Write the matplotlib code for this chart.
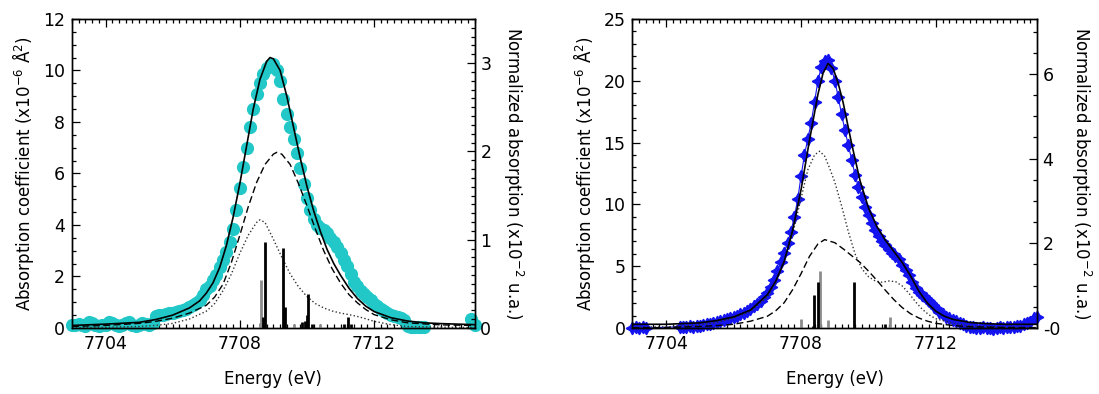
import numpy as np
import matplotlib.pyplot as plt
from matplotlib.ticker import MultipleLocator, FixedLocator, FixedFormatter

# ---- left panel: measured data (cyan circles) ----
e_left = [7703.0, 7703.1, 7703.2, 7703.3, 7703.4, 7703.5, 7703.6, 7703.7, 7703.8, 7703.9,
          7704.0, 7704.1, 7704.2, 7704.3, 7704.4, 7704.5, 7704.6, 7704.7, 7704.8, 7704.9,
          7705.0, 7705.1, 7705.2, 7705.3, 7705.4, 7705.5, 7705.6, 7705.7, 7705.8, 7705.9,
          7706.0, 7706.1, 7706.2, 7706.3, 7706.4, 7706.5, 7706.6, 7706.7, 7706.8, 7706.9,
          7707.0, 7707.1, 7707.2, 7707.3, 7707.4, 7707.5, 7707.6, 7707.7, 7707.8, 7707.9,
          7708.0, 7708.1, 7708.2, 7708.3, 7708.4, 7708.5, 7708.6, 7708.7, 7708.8, 7708.9,
          7709.0, 7709.1, 7709.2, 7709.3, 7709.4, 7709.5, 7709.6, 7709.7, 7709.8, 7709.9,
          7710.0, 7710.1, 7710.2, 7710.3, 7710.4, 7710.5, 7710.6, 7710.7, 7710.8, 7710.9,
          7711.0, 7711.1, 7711.2, 7711.3, 7711.4, 7711.5, 7711.6, 7711.7, 7711.8, 7711.9,
          7712.0, 7712.1, 7712.2, 7712.3, 7712.4, 7712.5, 7712.6, 7712.7, 7712.8, 7712.9,
          7713.0, 7713.1, 7713.2, 7713.3, 7713.4, 7713.5, 7714.9, 7715.0]
mu_left = [0.10, 0.12, 0.15, 0.10, 0.08, 0.22, 0.20, 0.12, 0.08, 0.10,
           0.12, 0.22, 0.20, 0.10, 0.06, 0.10, 0.20, 0.22, 0.12, 0.08,
           0.12, 0.18, 0.15, 0.12, 0.20, 0.45, 0.50, 0.52, 0.55, 0.58,
           0.60, 0.63, 0.66, 0.70, 0.75, 0.80, 0.88, 0.98, 1.10, 1.30,
           1.50, 1.65, 1.85, 2.05, 2.35, 2.65, 2.95, 3.35, 3.85, 4.60,
           5.45, 6.25, 7.00, 7.80, 8.50, 9.10, 9.50, 9.85, 10.1, 10.2,
           10.25, 10.0, 9.60, 8.90, 8.30, 7.80, 7.35, 6.80, 6.20, 5.60,
           5.05, 4.60, 4.25, 4.00, 3.90, 3.80, 3.68, 3.50, 3.35, 3.15,
           2.92, 2.65, 2.40, 2.10, 1.80, 1.62, 1.45, 1.32, 1.20, 1.08,
           0.95, 0.85, 0.75, 0.66, 0.60, 0.52, 0.46, 0.42, 0.38, 0.30,
           0.08, 0.05, 0.04, 0.05, 0.03, 0.04, 0.35, 0.12]

# left panel: total fit (solid), component 1 (dashed), component 2 (dotted)
e_fit_l = [7703.0, 7704.0, 7705.0, 7705.5, 7706.0, 7706.5, 7706.8, 7707.0, 7707.2, 7707.4,
           7707.6, 7707.8, 7708.0, 7708.2, 7708.4, 7708.6, 7708.8, 7708.9, 7709.0, 7709.2,
           7709.4, 7709.6, 7709.8, 7710.0, 7710.2, 7710.4, 7710.6, 7710.8, 7711.0, 7711.25,
           7711.5, 7711.75, 7712.0, 7712.5, 7713.0, 7713.5, 7714.0, 7715.0]
tot_l = [0.10, 0.15, 0.22, 0.33, 0.50, 0.78, 1.05, 1.35, 1.75, 2.35,
         3.20, 4.30, 5.60, 7.05, 8.50, 9.65, 10.35, 10.5, 10.45, 10.0,
         9.00, 7.80, 6.60, 5.50, 4.55, 3.75, 3.05, 2.50, 2.05, 1.55,
         1.15, 0.85, 0.64, 0.40, 0.27, 0.20, 0.17, 0.13]

e_dash_l = [7703.0, 7704.0, 7705.0, 7705.5, 7706.0, 7706.5, 7707.0, 7707.25, 7707.5, 7707.75,
            7708.0, 7708.25, 7708.5, 7708.75, 7709.0, 7709.1, 7709.25, 7709.5, 7709.75, 7710.0,
            7710.25, 7710.5, 7710.75, 7711.0, 7711.25, 7711.5, 7711.75, 7712.0, 7712.5, 7713.0,
            7714.0, 7715.0]
dash_l = [0.06, 0.10, 0.18, 0.26, 0.38, 0.58, 0.88, 1.20, 1.70, 2.55,
          3.60, 4.70, 5.65, 6.35, 6.75, 6.82, 6.75, 6.35, 5.60, 4.75,
          3.85, 3.00, 2.30, 1.75, 1.30, 0.98, 0.72, 0.52, 0.32, 0.20,
          0.12, 0.10]

e_dot_l = [7703.0, 7704.0, 7705.0, 7705.5, 7706.0, 7706.5, 7707.0, 7707.25, 7707.5, 7707.75,
           7708.0, 7708.25, 7708.5, 7708.6, 7708.75, 7709.0, 7709.25, 7709.5, 7709.75, 7710.0,
           7710.25, 7710.5, 7710.75, 7711.0, 7711.25, 7711.5, 7711.75, 7712.0, 7712.5, 7713.0,
           7714.0, 7715.0]
dot_l = [0.02, 0.03, 0.06, 0.10, 0.18, 0.35, 0.65, 0.95, 1.45, 2.10,
         2.90, 3.60, 4.10, 4.20, 4.10, 3.45, 2.75, 2.10, 1.60, 1.22,
         0.95, 0.78, 0.66, 0.58, 0.52, 0.45, 0.36, 0.26, 0.13, 0.06,
         0.03, 0.02]

# left panel: calculated transitions (right axis)
stick_e_l_black = [7708.70, 7708.74, 7709.29, 7709.36, 7709.85, 7709.95, 7710.0, 7710.03,
                   7710.15, 7711.10, 7711.23, 7711.30]
stick_h_l_black = [0.13, 0.97, 0.91, 0.24, 0.07, 0.08, 0.15, 0.38,
                   0.05, 0.04, 0.13, 0.05]
stick_e_l_gray = [7708.60, 7708.64, 7709.60, 7710.40]
stick_h_l_gray = [0.06, 0.54, 0.04, 0.04]

# ---- right panel: measured data (blue stars) ----
e_right = [7703.0, 7703.1, 7703.2, 7703.3, 7703.4,
           7704.4, 7704.5, 7704.6, 7704.7, 7704.8, 7704.9, 7705.0, 7705.1, 7705.2, 7705.3,
           7705.4, 7705.5, 7705.6, 7705.7, 7705.8, 7705.9, 7706.0, 7706.1, 7706.2, 7706.3,
           7706.4, 7706.5, 7706.6, 7706.7, 7706.8, 7706.9, 7707.0, 7707.1, 7707.2, 7707.3,
           7707.4, 7707.5, 7707.6, 7707.7, 7707.8, 7707.9, 7708.0, 7708.1, 7708.2, 7708.3,
           7708.4, 7708.5, 7708.6, 7708.7, 7708.8, 7708.9, 7709.0, 7709.1, 7709.2, 7709.3,
           7709.4, 7709.5, 7709.6, 7709.7, 7709.8, 7709.9, 7710.0, 7710.1, 7710.2, 7710.3,
           7710.4, 7710.5, 7710.6, 7710.7, 7710.8, 7710.9, 7711.0, 7711.1, 7711.2, 7711.3,
           7711.4, 7711.5, 7711.6, 7711.7, 7711.8, 7711.9, 7712.0, 7712.1, 7712.2, 7712.3,
           7712.4, 7712.5, 7712.6, 7712.7, 7712.8, 7712.9, 7713.0, 7713.1, 7713.2, 7713.3,
           7713.4, 7713.5, 7713.6, 7713.7, 7713.8, 7713.9, 7714.0, 7714.1, 7714.2, 7714.3,
           7714.4, 7714.5, 7714.6, 7714.7, 7714.8, 7714.9, 7715.0]
mu_right = [0.00, 0.05, 0.00, 0.05, 0.00,
            0.10, 0.05, 0.10, 0.15, 0.10, 0.20, 0.20, 0.25, 0.30, 0.35,
            0.40, 0.50, 0.55, 0.65, 0.72, 0.80, 0.90, 1.00, 1.10, 1.25,
            1.40, 1.55, 1.75, 1.95, 2.20, 2.50, 2.85, 3.30, 3.90, 4.60,
            5.30, 6.10, 6.90, 7.80, 9.00, 10.4, 12.3, 14.0, 15.3, 16.6,
            18.3, 20.0, 21.1, 21.6, 21.7, 21.0, 20.0, 18.7, 17.3, 16.0,
            14.8, 13.6, 12.4, 11.4, 10.6, 9.80, 9.10, 8.50, 7.90, 7.45,
            7.05, 6.70, 6.40, 6.10, 5.85, 5.55, 5.10, 4.70, 4.25, 3.70,
            3.25, 2.95, 2.65, 2.40, 2.15, 1.85, 1.60, 1.30, 1.10, 0.90,
            0.80, 0.65, 0.55, 0.40, 0.30, 0.20, 0.10, 0.05, 0.00, 0.00,
            0.05, 0.00, 0.00, -0.05, 0.00, 0.05, 0.00, 0.05, 0.10, 0.05,
            0.15, 0.20, 0.30, 0.40, 0.50, 0.80, 0.90]

e_fit_r = [7703.0, 7704.0, 7705.0, 7705.5, 7706.0, 7706.5, 7707.0, 7707.25, 7707.5, 7707.75,
           7708.0, 7708.25, 7708.5, 7708.65, 7708.8, 7708.95, 7709.1, 7709.25, 7709.5, 7709.75,
           7710.0, 7710.25, 7710.5, 7710.75, 7711.0, 7711.25, 7711.5, 7711.75, 7712.0, 7712.25,
           7712.5, 7713.0, 7713.5, 7714.0, 7715.0]
tot_r = [0.30, 0.30, 0.42, 0.60, 0.90, 1.45, 2.70, 3.80, 5.40, 7.90,
         11.2, 15.2, 18.9, 20.6, 21.4, 21.0, 19.8, 18.2, 14.9, 11.9,
         9.70, 8.20, 7.10, 6.20, 5.30, 4.20, 2.95, 2.00, 1.35, 0.95,
         0.70, 0.45, 0.35, 0.30, 0.30]

e_dash_r = [7703.0, 7704.0, 7705.0, 7705.5, 7706.0, 7706.5, 7707.0, 7707.25, 7707.5, 7707.75,
            7708.0, 7708.25, 7708.5, 7708.7, 7709.0, 7709.25, 7709.5, 7709.75, 7710.0, 7710.25,
            7710.5, 7710.75, 7711.0, 7711.25, 7711.5, 7711.75, 7712.0, 7712.5, 7713.0, 7714.0,
            7715.0]
dash_r = [0.02, 0.04, 0.12, 0.20, 0.30, 0.55, 0.95, 1.40, 2.05, 3.10,
          4.40, 5.80, 6.80, 7.15, 6.90, 6.40, 5.85, 5.30, 4.60, 3.85,
          3.05, 2.30, 1.65, 1.15, 0.80, 0.55, 0.38, 0.20, 0.10, 0.05,
          0.03]

e_dot_r = [7703.0, 7704.0, 7705.0, 7705.5, 7706.0, 7706.5, 7707.0, 7707.25, 7707.5, 7707.75,
           7708.0, 7708.2, 7708.4, 7708.55, 7708.7, 7708.85, 7709.0, 7709.2, 7709.4, 7709.6,
           7709.8, 7710.0, 7710.2, 7710.4, 7710.6, 7710.8, 7711.0, 7711.2, 7711.4, 7711.6,
           7711.8, 7712.0, 7712.5, 7713.0, 7714.0, 7715.0]
dot_r = [0.05, 0.10, 0.25, 0.45, 0.80, 1.35, 2.50, 3.70, 5.30, 7.60,
         10.5, 12.8, 14.0, 14.3, 13.9, 12.9, 11.8, 9.90, 7.80, 6.00,
         4.80, 4.15, 3.80, 3.70, 3.80, 3.75, 3.40, 2.80, 2.10, 1.50,
         1.05, 0.75, 0.38, 0.18, 0.06, 0.03]

stick_e_r_black = [7708.36, 7708.39, 7708.51, 7709.56, 7710.50]
stick_h_r_black = [0.05, 0.79, 1.09, 1.09, 0.10]
stick_e_r_gray = [7708.00, 7708.55, 7708.79, 7710.64]
stick_h_r_gray = [0.22, 1.34, 0.20, 0.27]

CYAN = '#22c8c8'
BLUE = '#1414f0'
GRAY = '#8c8c8c'


def style_axes(ax, ax2, ymax, ymin_step, ymaj, y2max, y2maj, y2min, y2labels=None):
    ax.set_xlim(7703, 7715)
    ax.set_ylim(0, ymax)
    ax2.set_ylim(0, y2max)
    ax.xaxis.set_major_locator(FixedLocator([7704, 7708, 7712]))
    ax.xaxis.set_minor_locator(MultipleLocator(0.2))
    ax.yaxis.set_major_locator(MultipleLocator(ymaj))
    ax.yaxis.set_minor_locator(MultipleLocator(ymin_step))
    ax2.yaxis.set_major_locator(MultipleLocator(y2maj))
    ax2.yaxis.set_minor_locator(MultipleLocator(y2min))
    if y2labels is not None:
        ax2.yaxis.set_major_locator(FixedLocator(list(range(0, len(y2labels) * y2maj, y2maj))))
        ax2.yaxis.set_major_formatter(FixedFormatter(y2labels))
    ax.tick_params(which='both', direction='in', top=True, right=False, labelsize=12.5, width=0.9)
    ax.tick_params(which='major', length=6, pad=5)
    ax.tick_params(which='minor', length=3)
    ax2.tick_params(which='both', direction='in', labelsize=12.5, width=0.9)
    ax2.tick_params(which='major', length=6, pad=4)
    ax2.tick_params(which='minor', length=3)
    ax.set_xlabel('Energy (eV)', fontsize=12, labelpad=12)
    ax.set_ylabel(r'Absorption coefficient (x10$^{-6}$ Å$^{2}$)', fontsize=12, labelpad=5)
    ax2.set_ylabel(r'Normalized absorption (x10$^{-2}$ u.a.)', fontsize=12,
                   rotation=270, labelpad=24)
    for sp in list(ax.spines.values()) + list(ax2.spines.values()):
        sp.set_linewidth(1.0)


fig = plt.figure(figsize=(10.99, 3.94), dpi=100)
ax1 = fig.add_axes([0.0655, 0.1675, 0.3665, 0.7845])
ax3 = fig.add_axes([0.5755, 0.1675, 0.3682, 0.7845])

# left panel
ax1.plot(e_left, mu_left, 'o', color=CYAN, ms=8.5, mec=CYAN, clip_on=False, zorder=2)
ax1.plot(e_dot_l, dot_l, ':', color='#333333', lw=1.0, zorder=3)
ax1.plot(e_dash_l, dash_l, '--', color='black', lw=1.0, dashes=(5, 2.5), zorder=3)
ax1.plot(e_fit_l, tot_l, '-', color='black', lw=1.2, zorder=4)
ax2 = ax1.twinx()
ax2.vlines(stick_e_l_gray, 0, stick_h_l_gray, color=GRAY, lw=2.0)
ax2.vlines(stick_e_l_black, 0, stick_h_l_black, color='black', lw=2.0)
style_axes(ax1, ax2, 12, 0.5, 2, 3.5, 1, 0.1)

# right panel
ax3.plot(e_right, mu_right, marker=(4, 1, 0), ls='-', lw=0.8, color=BLUE, ms=9,
         mec=BLUE, clip_on=False, zorder=2)
ax3.plot(e_dot_r, dot_r, ':', color='#333333', lw=1.0, zorder=3)
ax3.plot(e_dash_r, dash_r, '--', color='black', lw=1.0, dashes=(5, 2.5), zorder=3)
ax3.plot(e_fit_r, tot_r, '-', color='black', lw=1.2, zorder=4)
ax4 = ax3.twinx()
ax4.vlines(stick_e_r_gray, 0, stick_h_r_gray, color=GRAY, lw=2.0)
ax4.vlines(stick_e_r_black, 0, stick_h_r_black, color='black', lw=2.0)
style_axes(ax3, ax4, 25, 1, 5, 7.3, 2, 0.5, y2labels=['-0', '2', '4', '6'])

fig.savefig('out.png', dpi=100)
